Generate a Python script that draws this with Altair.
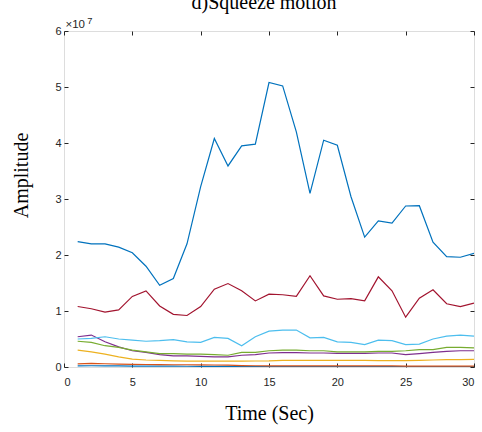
import altair as alt
import pandas as pd

# Sampling instants (seconds)
time_sec = list(range(1, 31))

# Amplitude of each channel, in units of 1e7
amp_c1 = [0.020, 0.022, 0.021, 0.019, 0.017, 0.016, 0.015, 0.014, 0.013, 0.012,
          0.011, 0.010, 0.008, 0.007, 0.006, 0.006, 0.005, 0.005, 0.005, 0.005,
          0.005, 0.005, 0.005, 0.005, 0.005, 0.005, 0.005, 0.005, 0.005, 0.005]
amp_c2 = [0.055, 0.065, 0.058, 0.052, 0.048, 0.045, 0.042, 0.040, 0.040, 0.038,
          0.036, 0.032, 0.025, 0.022, 0.020, 0.020, 0.020, 0.020, 0.020, 0.020,
          0.020, 0.020, 0.020, 0.019, 0.016, 0.015, 0.015, 0.015, 0.015, 0.015]
amp_c3 = [0.30, 0.27, 0.23, 0.18, 0.14, 0.125, 0.12, 0.11, 0.105, 0.105,
          0.105, 0.105, 0.105, 0.107, 0.11, 0.12, 0.12, 0.12, 0.12, 0.12,
          0.12, 0.12, 0.115, 0.115, 0.115, 0.12, 0.125, 0.13, 0.13, 0.137]
amp_c4 = [0.54, 0.57, 0.45, 0.36, 0.29, 0.26, 0.22, 0.20, 0.20, 0.19,
          0.18, 0.18, 0.21, 0.22, 0.25, 0.255, 0.255, 0.25, 0.25, 0.245,
          0.245, 0.245, 0.25, 0.25, 0.22, 0.24, 0.26, 0.28, 0.29, 0.29]
amp_c5 = [0.46, 0.44, 0.38, 0.35, 0.30, 0.27, 0.24, 0.24, 0.23, 0.23,
          0.22, 0.21, 0.26, 0.26, 0.29, 0.30, 0.30, 0.29, 0.29, 0.27,
          0.27, 0.27, 0.28, 0.28, 0.29, 0.31, 0.31, 0.35, 0.35, 0.34]
amp_c6 = [0.50, 0.51, 0.54, 0.50, 0.48, 0.46, 0.47, 0.49, 0.45, 0.44,
          0.53, 0.51, 0.38, 0.54, 0.64, 0.66, 0.66, 0.52, 0.53, 0.45,
          0.44, 0.40, 0.48, 0.47, 0.40, 0.41, 0.50, 0.55, 0.57, 0.55]
amp_c7 = [1.08, 1.04, 0.98, 1.02, 1.26, 1.36, 1.09, 0.94, 0.92, 1.08,
          1.39, 1.49, 1.36, 1.18, 1.30, 1.29, 1.26, 1.63, 1.27, 1.21,
          1.22, 1.18, 1.61, 1.36, 0.89, 1.23, 1.38, 1.13, 1.08, 1.14]
amp_c8 = [2.24, 2.20, 2.20, 2.14, 2.04, 1.80, 1.46, 1.58, 2.20, 3.22,
          4.08, 3.59, 3.95, 3.98, 5.08, 5.02, 4.20, 3.10, 4.05, 3.96,
          3.04, 2.32, 2.61, 2.57, 2.875, 2.88, 2.23, 1.97, 1.96, 2.03]

channel_names = ["c1", "c2", "c3", "c4", "c5", "c6", "c7", "c8"]
channel_colors = ["#0072BD", "#D95319", "#EDB120", "#7E2F8E",
                  "#77AC30", "#4DBEEE", "#A2142F", "#0072BD"]
channel_values = [amp_c1, amp_c2, amp_c3, amp_c4, amp_c5, amp_c6, amp_c7, amp_c8]

x_ticks = [0, 5, 10, 15, 20, 25, 30]
y_ticks = [0, 1e7, 2e7, 3e7, 4e7, 5e7, 6e7]
exponent_base = "×10"
exponent_power = "7"

rows = []
for name, vals in zip(channel_names, channel_values):
    for t, v in zip(time_sec, vals):
        rows.append({"t": t, "amp": v * 1e7, "ch": name})
df = pd.DataFrame(rows)

ink = "#262626"
x_scale = alt.Scale(domain=[0, 30], nice=False, zero=False)
y_scale = alt.Scale(domain=[0, 6e7], nice=False)
color_scale = alt.Scale(domain=channel_names, range=channel_colors)

common = dict(domain=False, grid=False, ticks=True, tickSize=4, tickColor=ink,
              tickWidth=1, offset=-4, labelFont="Liberation Sans",
              labelFontSize=11, labelColor=ink)

x_bottom = alt.Axis(orient="bottom", values=x_ticks, labelPadding=9,
                    title="Time (Sec)", titleFont="Liberation Serif",
                    titleFontSize=20, titleFontWeight="normal", titleColor="black",
                    titleBaseline="alphabetic", titleY=56, **common)
y_left = alt.Axis(orient="left", values=y_ticks, labelPadding=3,
                  labelExpr="datum.value / 1e7",
                  title="Amplitude", titleFont="Liberation Serif",
                  titleFontSize=20, titleFontWeight="normal", titleColor="black",
                  titleAngle=270, titleAlign="center", titleBaseline="alphabetic",
                  titleX=-40.5, titleY=144, **common)
x_top = alt.Axis(orient="top", values=x_ticks, labels=False, title=None, **common)
y_right = alt.Axis(orient="right", values=y_ticks, labels=False, title=None, **common)

lines = alt.Chart(df).mark_line(strokeWidth=1.2, clip=True).encode(
    x=alt.X("t:Q", scale=x_scale, axis=x_bottom),
    y=alt.Y("amp:Q", scale=y_scale, axis=y_left),
    color=alt.Color("ch:N", scale=color_scale, legend=None),
)

frame = alt.Chart(df).mark_line(opacity=0).encode(
    x=alt.X("t:Q", scale=x_scale, axis=x_top),
    y=alt.Y("amp:Q", scale=y_scale, axis=y_right),
    detail="ch:N",
)

exp_base = alt.Chart(pd.DataFrame({"txt": [exponent_base]})).mark_text(
    font="Liberation Sans", fontSize=11.5, color=ink, align="left",
    baseline="alphabetic",
).encode(text="txt:N", x=alt.value(1.5), y=alt.value(-2.7))

exp_power = alt.Chart(pd.DataFrame({"txt": [exponent_power]})).mark_text(
    font="Liberation Sans", fontSize=9.3, color=ink, align="left",
    baseline="alphabetic",
).encode(text="txt:N", x=alt.value(23.2), y=alt.value(-7.2))

chart = alt.layer(frame, lines, exp_base, exp_power).resolve_axis(
    x="independent", y="independent"
).properties(
    width=410,
    height=336,
    padding={"left": 64, "top": 31, "right": 8, "bottom": 65},
    autosize=alt.AutoSizeParams(type="none"),
    title=alt.TitleParams("d)Squeeze motion", font="Liberation Serif", fontSize=20,
                          fontWeight="normal", color="black", anchor="middle",
                          frame="group", offset=3.6, dx=-5),
).configure_view(stroke=ink, strokeWidth=1).configure(background="white")

chart.save("out.html", embed_options={"renderer": "svg", "actions": False})
